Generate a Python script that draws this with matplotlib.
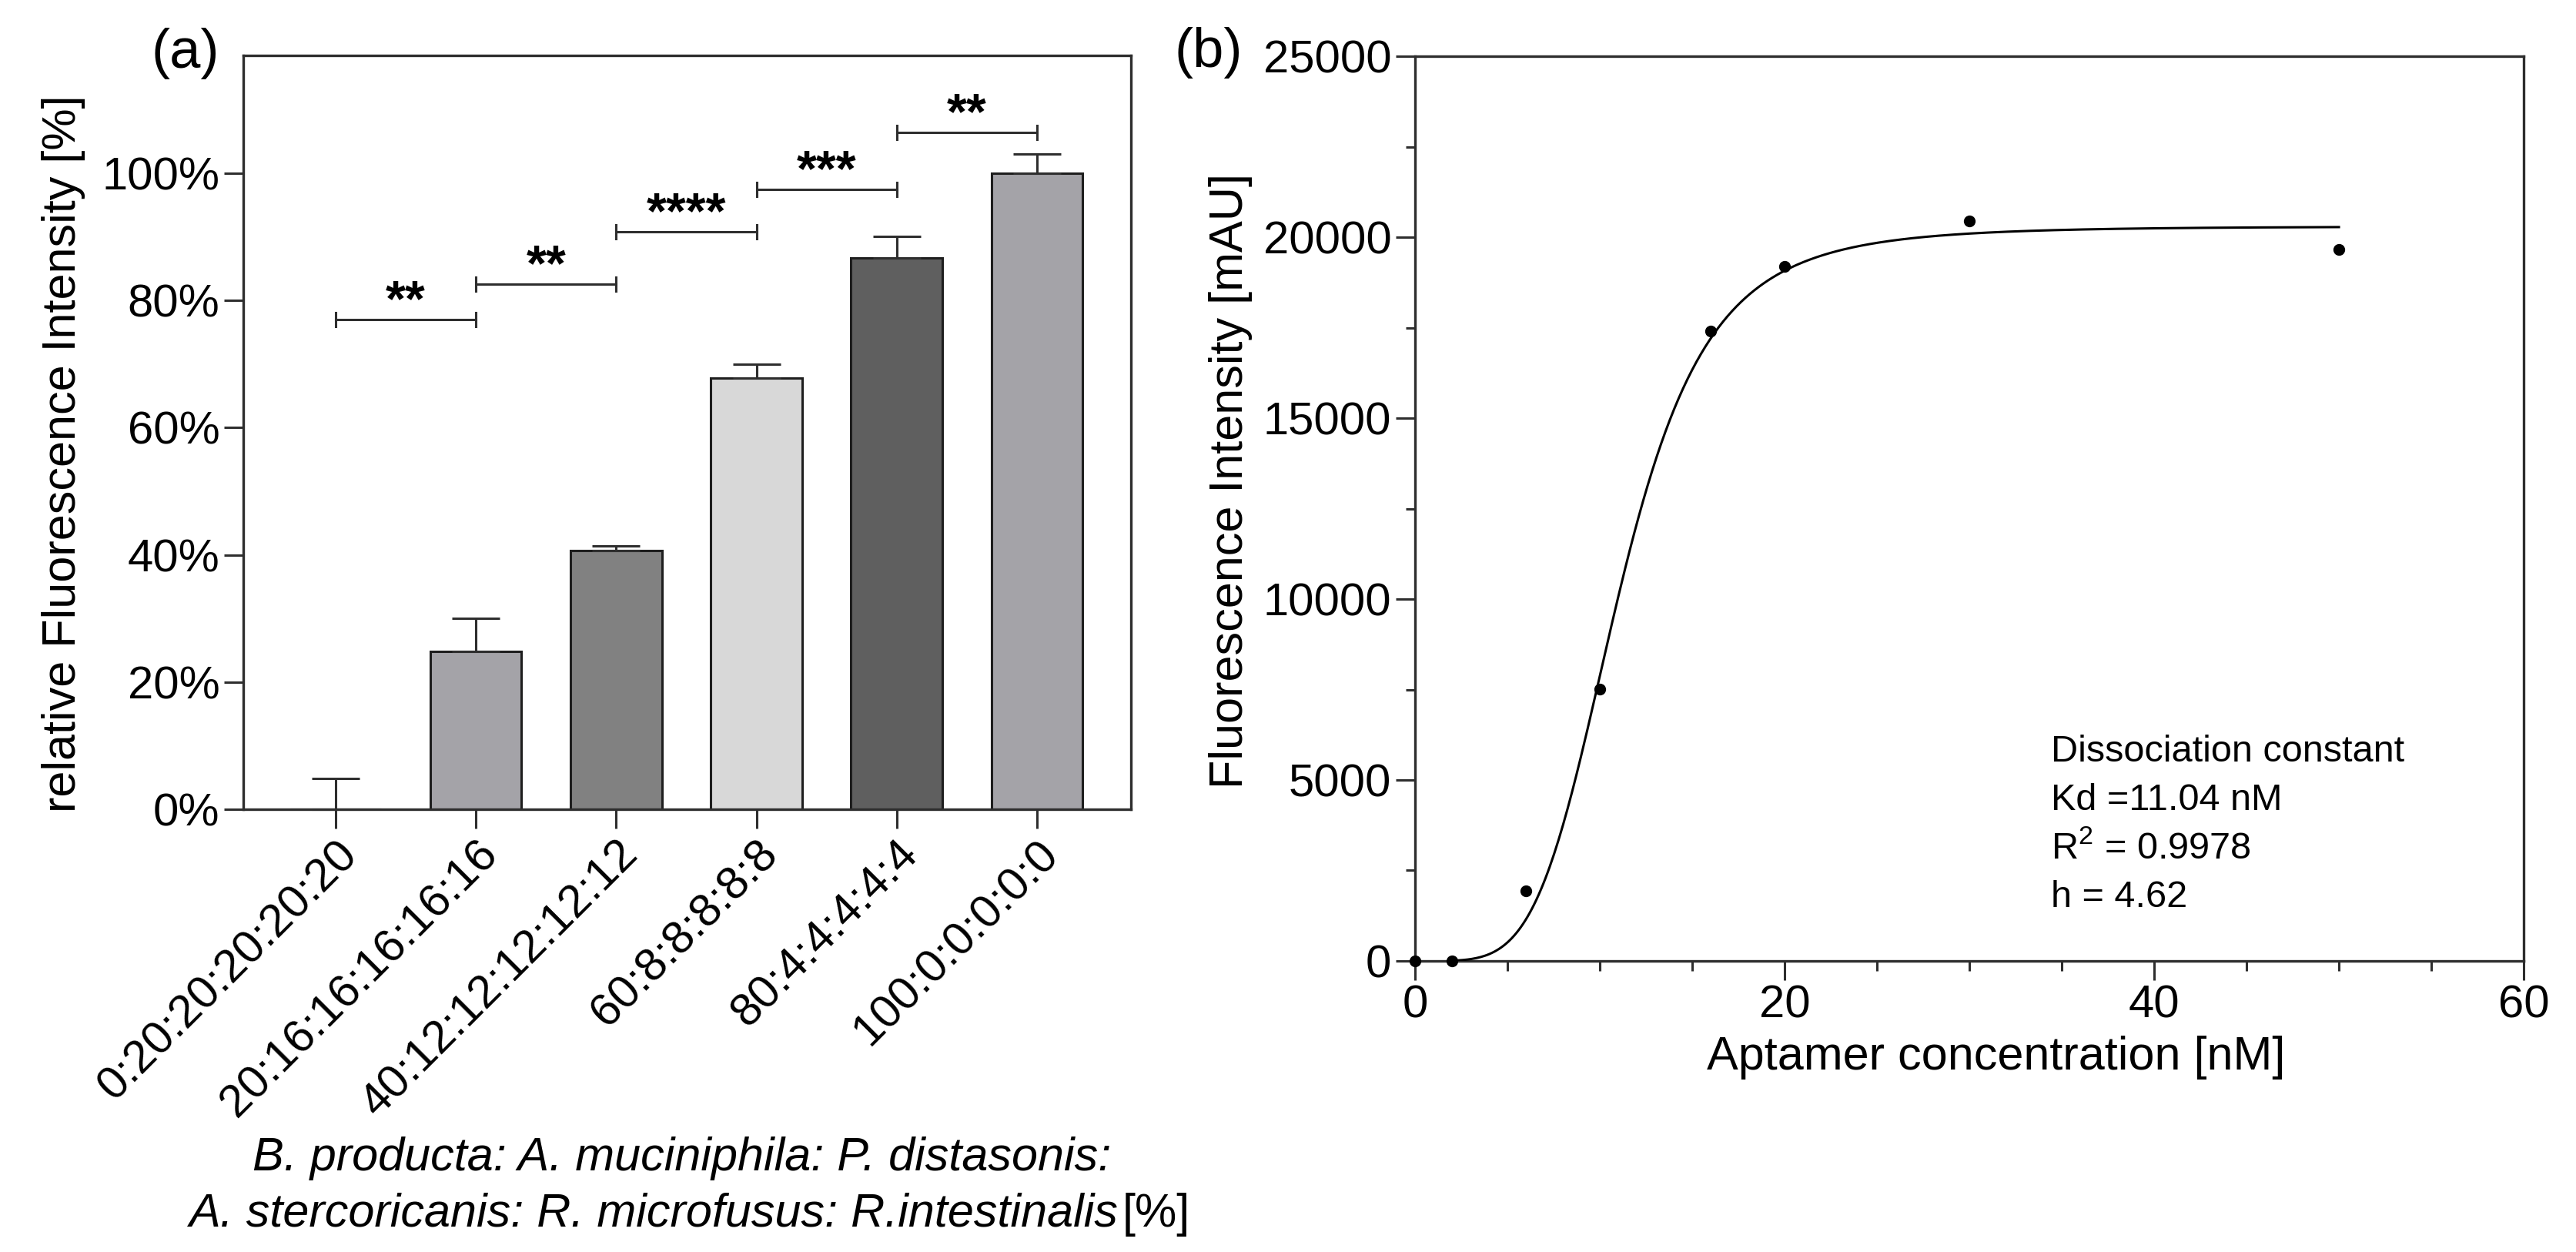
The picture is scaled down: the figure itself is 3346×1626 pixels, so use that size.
import numpy as np
import matplotlib; matplotlib.use("Agg")
import matplotlib.pyplot as plt
from matplotlib.ticker import MultipleLocator, FuncFormatter
from matplotlib.transforms import ScaledTranslation

plt.rcParams["font.family"] = ["Liberation Sans", "DejaVu Sans"]
plt.rcParams["mathtext.fontset"] = "custom"
plt.rcParams["mathtext.rm"] = "Liberation Sans"
plt.rcParams["mathtext.it"] = "Liberation Sans:italic"

# ---- panel (a) data
ratios = ["0:20:20:20:20:20", "20:16:16:16:16:16", "40:12:12:12:12:12",
          "60:8:8:8:8:8", "80:4:4:4:4:4", "100:0:0:0:0:0"]
rel_fluo = [0.0, 24.8, 40.7, 67.8, 86.7, 100.0]
rel_err = [4.9, 5.2, 0.7, 2.2, 3.3, 3.0]
bar_colors = ["#ffffff", "#a4a3a8", "#818181", "#d8d8d8", "#5f5f5f", "#a4a3a8"]
sig_pairs = [(0, 1), (1, 2), (2, 3), (3, 4), (4, 5)]
sig_level = [77.0, 82.6, 90.8, 97.4, 106.4]
sig_stars = ["**", "**", "****", "***", "**"]

# ---- panel (b) data
conc = [0, 2, 6, 10, 16, 20, 30, 50]
intensity = [0, 0, 1930, 7510, 17410, 19200, 20460, 19670]
KD, HILL, BMAX = 11.04, 4.62, 20300
fit_text = ["Dissociation constant", "Kd =11.04 nM", "R$^2$ = 0.9978", "h = 4.62"]

INK = "#2e2e2e"
TICK = 21.5
LAB = 22

fig = plt.figure(figsize=(16.73, 8.13), dpi=200)

# ================= (a)
ax = fig.add_axes([0.0944, 0.3536, 0.3446, 0.6021])
x = np.arange(len(ratios))
ax.bar(x, rel_fluo, width=0.65, color=bar_colors, edgecolor="#1e1e1e", linewidth=1.1, zorder=2)
ax.errorbar(x, rel_fluo, yerr=[np.zeros(len(x)), rel_err], fmt="none", ecolor=INK,
            elinewidth=1.1, capsize=11, capthick=1.1, zorder=3, clip_on=False)
for (i, j), yv, st in zip(sig_pairs, sig_level, sig_stars):
    ax.plot([i, j], [yv, yv], color=INK, lw=1.1, zorder=4)
    for xe in (i, j):
        ax.plot([xe, xe], [yv - 1.1, yv + 1.1], color=INK, lw=1.1, zorder=4)
    ax.text((i + j) / 2, yv + 0.6, st, ha="center", va="baseline", fontsize=24,
            fontweight="bold")
ax.set_xlim(-0.66, 5.67)
ax.set_ylim(0, 118.5)
ax.set_yticks(np.arange(0, 101, 20))
ax.yaxis.set_major_formatter(FuncFormatter(lambda v, p: f"{v:.0f}%"))
ax.set_xticks(x)
ax.set_xticklabels(ratios, rotation=45, ha="right", rotation_mode="anchor")
shift = ScaledTranslation(-4 / 72, -2 / 72, fig.dpi_scale_trans)
for lbl in ax.get_xticklabels():
    lbl.set_transform(lbl.get_transform() + shift)
ax.set_ylabel("relative Fluorescence Intensity [%]", fontsize=LAB)
ax.yaxis.set_label_coords(-0.178, 0.472)

# ================= (b)
bx = fig.add_axes([0.5493, 0.2325, 0.4304, 0.7225])
xc = np.linspace(2, 50, 400)
bx.plot(xc, BMAX * xc**HILL / (KD**HILL + xc**HILL), color="black", lw=1.1, zorder=3)
bx.plot(conc, intensity, "o", color="black", ms=4.5, clip_on=False, zorder=5)
bx.set_xlim(0, 60)
bx.set_ylim(0, 25000)
bx.set_xticks([0, 20, 40, 60])
bx.xaxis.set_minor_locator(MultipleLocator(5))
bx.set_yticks(np.arange(0, 25001, 5000))
bx.yaxis.set_minor_locator(MultipleLocator(2500))
bx.set_xlabel("Aptamer concentration [nM]", fontsize=LAB)
bx.set_ylabel("Fluorescence Intensity [mAU]", fontsize=LAB)
bx.xaxis.set_label_coords(0.524, -0.083)
bx.yaxis.set_label_coords(-0.1465, 0.531)
for k, s in enumerate(fit_text):
    bx.text(0.5733, 0.2204 - k * 0.0536, s, transform=bx.transAxes, fontsize=17.5,
            va="baseline", ha="left")

for a in (ax, bx):
    for sp in a.spines.values():
        sp.set_linewidth(1.2); sp.set_color(INK)
    a.tick_params(which="major", direction="out", length=9, width=1.1, color=INK,
                  labelsize=TICK, pad=2)
    a.tick_params(which="minor", direction="out", length=4.5, width=1.1, color=INK)

# panel letters and composition caption
fig.text(0.072, 0.957, "(a)", fontsize=26, ha="center", va="center")
fig.text(0.469, 0.958, "(b)", fontsize=26, ha="center", va="center")
fig.text(0.2648, 0.075, "B. producta: A. muciniphila: P. distasonis:", fontsize=22,
         style="italic", ha="center", va="center")
fig.text(0.434, 0.0301, "A. stercoricanis: R. microfusus: R.intestinalis", fontsize=22,
         style="italic", ha="right", va="center")
fig.text(0.4355, 0.0301, "[%]", fontsize=22, ha="left", va="center")

fig.savefig("out.png", dpi=200)
